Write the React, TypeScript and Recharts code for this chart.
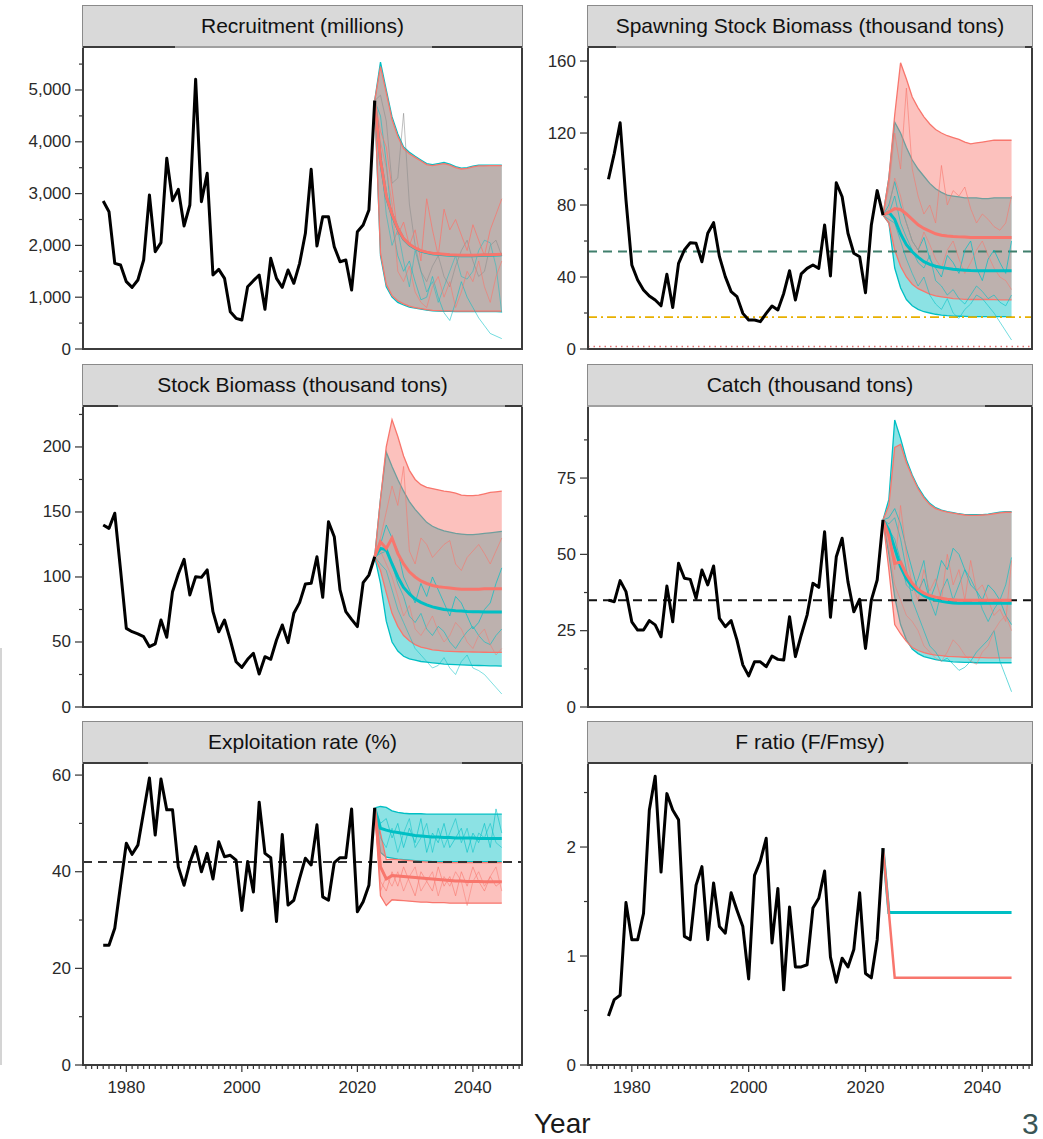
import React from 'react'
import { ComposedChart, Line, Area, XAxis, YAxis, ReferenceLine } from 'recharts'

// ---- years ----
const histYears = [
  1976, 1977, 1978, 1979, 1980, 1981, 1982, 1983, 1984, 1985, 1986, 1987, 1988, 1989, 1990, 1991,
  1992, 1993, 1994, 1995, 1996, 1997, 1998, 1999, 2000, 2001, 2002, 2003, 2004, 2005, 2006, 2007,
  2008, 2009, 2010, 2011, 2012, 2013, 2014, 2015, 2016, 2017, 2018, 2019, 2020, 2021, 2022, 2023,
]
const projYears = [
  2023, 2024, 2025, 2026, 2027, 2028, 2029, 2030, 2031, 2032, 2033, 2034, 2035, 2036, 2037, 2038,
  2039, 2040, 2041, 2042, 2043, 2044, 2045,
]
const yearTicks = [
  1973, 1974, 1975, 1976, 1977, 1978, 1979, 1980, 1981, 1982, 1983, 1984, 1985, 1986, 1987, 1988,
  1989, 1990, 1991, 1992, 1993, 1994, 1995, 1996, 1997, 1998, 1999, 2000, 2001, 2002, 2003, 2004,
  2005, 2006, 2007, 2008, 2009, 2010, 2011, 2012, 2013, 2014, 2015, 2016, 2017, 2018, 2019, 2020,
  2021, 2022, 2023, 2024, 2025, 2026, 2027, 2028, 2029, 2030, 2031, 2032, 2033, 2034, 2035, 2036,
  2037, 2038, 2039, 2040, 2041, 2042, 2043, 2044, 2045, 2046, 2047, 2048,
]
const yearLabels = [1980, 2000, 2020, 2040]

// ---- Recruitment (millions) ----
const recHist = [
  2857, 2651, 1654, 1622, 1300, 1190, 1332, 1718, 2973, 1879, 2053, 3681, 2864, 3082, 2375, 2780,
  5206, 2844, 3391, 1429, 1538, 1364, 721, 592, 560, 1203, 1319, 1429, 766, 1750, 1364, 1190,
  1525, 1268, 1654, 2233, 3469, 1988, 2554, 2554, 1975, 1685, 1718, 1139, 2265, 2394, 2683, 4794,
]
const recTealHi = [4794, 5540, 5000, 4480, 4150, 3900, 3800, 3720, 3650, 3580, 3560, 3580, 3600, 3570, 3520, 3490, 3500, 3530, 3550, 3550, 3550, 3550, 3550]
const recTealLo = [4794, 1800, 1200, 1000, 900, 850, 810, 790, 770, 750, 735, 730, 725, 725, 720, 720, 720, 720, 720, 720, 720, 720, 715]
const recTealMed = [4794, 3640, 2940, 2590, 2320, 2120, 2010, 1940, 1890, 1860, 1840, 1830, 1820, 1810, 1805, 1800, 1800, 1800, 1805, 1810, 1810, 1815, 1820]
const recRedHi = [4794, 5450, 4950, 4430, 4100, 3870, 3770, 3700, 3630, 3560, 3540, 3560, 3580, 3550, 3500, 3475, 3485, 3515, 3535, 3535, 3540, 3540, 3540]
const recRedLo = [4794, 1850, 1250, 1030, 930, 870, 830, 800, 780, 760, 745, 740, 735, 735, 730, 730, 730, 730, 730, 730, 730, 730, 730]
const recRedMed = [4794, 3650, 2950, 2600, 2330, 2130, 2020, 1950, 1900, 1870, 1850, 1840, 1830, 1820, 1815, 1810, 1810, 1810, 1815, 1820, 1820, 1825, 1830]
const recWormR1 = [4794, 4200, 3900, 3100, 2200, 2450, 2000, 2300, 1700, 2900, 2300, 1800, 2700, 2300, 2500, 2200, 1900, 2400, 2100, 1800, 2300, 2600, 2900]
const recWormR2 = [4794, 4000, 3500, 2800, 1500, 1300, 1600, 1100, 900, 800, 1200, 1400, 1000, 1300, 800, 1100, 1500, 1300, 1700, 1200, 900, 1400, 1700]
const recWormT1 = [4794, 4500, 3600, 2400, 1800, 1500, 1700, 1300, 950, 1000, 1400, 1000, 700, 550, 900, 1300, 1000, 800, 600, 450, 300, 250, 200]
const recWormT2 = [4794, 3800, 2600, 2000, 2300, 1700, 1200, 1900, 1500, 1100, 1300, 900, 1200, 1500, 1800, 1400, 1350, 1500, 1900, 2100, 2050, 1600, 700]
const recWormG1 = [4794, 4900, 4400, 3200, 3300, 4550, 2800, 2000, 1500, 1300, 1600, 1800, 1400, 1200, 1600, 1900, 2100, 1700, 1400, 1500, 2000, 2100, 1800]

// ---- Spawning stock biomass ----
const ssbHist = [
  94.3, 108.7, 125.7, 82.8, 46.7, 38.3, 32.8, 29.4, 27.2, 24, 41.5, 23, 47.6, 55, 59, 58.7,
  48.5, 64.3, 70.2, 51.3, 40.2, 31.9, 29.1, 19.8, 16.1, 16.1, 15.2, 19.8, 23.9, 21.7, 30.9, 43.5,
  27.2, 41.7, 44.8, 46.7, 44.8, 68.9, 40.6, 92.4, 84.6, 64.3, 53.2, 51.3, 31.3, 68.9, 88, 74.4,
]
const ssbRedHi = [74.4, 95, 130, 159, 150, 140, 134, 129, 125, 122, 120, 118.5, 117.5, 116.5, 115, 114, 114.5, 115, 115.5, 116, 116, 116, 116]
const ssbRedLo = [74.4, 70, 55, 46, 40, 36, 33.5, 32, 30.5, 29.5, 29, 28.5, 28, 27.8, 27.6, 27.5, 27.5, 27.5, 27.5, 27.4, 27.3, 27.3, 27.3]
const ssbRedMed = [74.4, 76, 78, 77.5, 75, 72, 69, 67, 65.5, 64, 63.2, 62.8, 62.5, 62.3, 62.2, 62, 62, 62, 62, 62, 62, 62, 62]
const ssbTealHi = [74.4, 95, 126, 120, 112, 105, 100, 96, 92, 89, 87, 85.5, 85, 84.5, 84, 84, 84, 83.5, 83.5, 84, 84, 84, 84]
const ssbTealLo = [74.4, 70, 45, 34, 27.5, 24, 22, 20.7, 20, 19.3, 18.8, 18.5, 18.3, 18.2, 18.1, 18, 18, 18, 18, 18, 18, 18, 18]
const ssbTealMed = [74.4, 76, 72, 64, 58, 54, 51, 48.5, 47, 46, 45.3, 44.8, 44.3, 44, 43.8, 43.6, 43.5, 43.5, 43.5, 43.5, 43.5, 43.5, 43.5]
const ssbWormR1 = [74.4, 90, 120, 100, 145, 100, 85, 75, 80, 70, 102, 80, 88, 85, 90, 78, 70, 75, 72, 68, 66, 70, 85]
const ssbWormR2 = [74.4, 78, 95, 85, 70, 60, 55, 65, 58, 50, 45, 55, 60, 50, 42, 48, 55, 60, 52, 45, 40, 38, 33]
const ssbWormT1 = [74.4, 80, 93, 80, 70, 60, 55, 62, 50, 45, 40, 52, 48, 42, 55, 60, 45, 38, 50, 55, 48, 42, 60]
const ssbWormT2 = [74.4, 72, 70, 60, 50, 42, 35, 40, 30, 25, 22, 28, 20, 17, 22, 25, 30, 28, 24, 20, 15, 10, 5]
const ssbWormT3 = [74.4, 75, 85, 70, 62, 55, 48, 45, 52, 38, 35, 30, 33, 28, 25, 30, 35, 32, 28, 30, 26, 24, 30]

// ---- Stock biomass ----
const sbHist = [
  140, 137.4, 149, 105.4, 60.5, 57.9, 56.2, 54.1, 46.4, 48.5, 66.9, 53.6, 88.7, 102.3, 113.6, 86.2,
  100.2, 99.7, 105.4, 73.3, 57.9, 66.9, 51.5, 34.8, 30.5, 36.7, 41.3, 25.4, 38.7, 36.7, 51.5, 63.1,
  49.5, 72.1, 80.3, 94.6, 95.1, 115.6, 84.4, 142.5, 131, 90, 73.3, 67.4, 61.8, 95.6, 101.5, 115.6,
]
const sbRedHi = [115.6, 160, 200, 221, 208, 193, 182, 175, 171, 169, 168, 167, 166, 165.5, 164.5, 163, 162.5, 162.5, 163, 164, 165, 165.5, 166]
const sbRedLo = [115.6, 105, 88, 72, 62, 55, 51, 48, 46, 45, 44, 43.5, 43, 42.8, 42.6, 42.5, 42.4, 42.3, 42.2, 42.1, 42, 42, 42]
const sbRedMed = [115.6, 127, 122, 130, 118, 110, 104, 100, 97, 95, 93.5, 92.5, 92, 91.5, 91, 90.5, 90.5, 90.5, 90.5, 91, 91, 91, 91]
const sbTealHi = [115.6, 160, 196, 185, 175, 166, 158, 152, 147, 142, 139, 137, 135.5, 134.5, 133.5, 133, 132.5, 132.5, 133, 133.5, 134, 134.5, 135]
const sbTealLo = [115.6, 95, 66, 50, 43, 39, 37, 36, 35, 34.5, 34, 33.5, 33, 32.8, 32.6, 32.4, 32.2, 32, 31.9, 31.8, 31.7, 31.6, 31.5]
const sbTealMed = [115.6, 122, 121, 110, 100, 92, 87, 83, 80.5, 78.5, 77, 76, 75, 74.5, 74, 73.8, 73.5, 73.3, 73.2, 73, 73, 73, 73]
const sbWormR1 = [115.6, 130, 150, 170, 155, 185, 120, 110, 130, 125, 115, 120, 125, 128, 110, 105, 115, 120, 125, 118, 110, 120, 130]
const sbWormR2 = [115.6, 120, 110, 100, 85, 70, 78, 60, 55, 62, 70, 58, 50, 55, 65, 60, 50, 45, 55, 60, 48, 40, 45]
const sbWormT1 = [115.6, 125, 140, 130, 120, 100, 90, 80, 95, 85, 100, 90, 80, 70, 85, 80, 70, 60, 65, 75, 80, 95, 107]
const sbWormT2 = [115.6, 110, 105, 90, 75, 65, 55, 45, 40, 35, 30, 32, 38, 30, 25, 35, 40, 30, 28, 25, 20, 15, 10]
const sbWormT3 = [115.6, 118, 120, 110, 95, 85, 70, 65, 72, 60, 55, 62, 58, 50, 45, 52, 58, 62, 55, 50, 48, 55, 60]

// ---- Catch ----
const catchHist = [
  35, 34.5, 41.4, 37.8, 27.9, 25.2, 25.2, 28.3, 26.9, 23, 39.6, 27.9, 47.1, 42.2, 41.8, 35.6,
  44.9, 40, 46.2, 29, 26.3, 28.3, 21.9, 13.8, 10.2, 14.8, 14.8, 13.2, 16.7, 15.6, 15.4, 29.6,
  16.5, 23.6, 30.1, 40.5, 39.2, 57.4, 29.4, 49.2, 55.3, 41, 31.2, 35.3, 19.2, 35, 41.6, 61.3,
]
const catchTealHi = [61.3, 68, 94, 88, 81, 76, 72, 69, 66.7, 65.3, 64.5, 64, 63.7, 63.3, 63, 63, 63, 63, 63.2, 63.5, 63.8, 64, 64]
const catchTealLo = [61.3, 50, 36, 27, 22, 19, 17.5, 16.5, 16, 15.5, 15.2, 15, 14.8, 14.7, 14.6, 14.6, 14.5, 14.5, 14.5, 14.5, 14.5, 14.5, 14.5]
const catchTealMed = [61.3, 58, 52, 46, 42, 39.5, 37.8, 36.5, 35.6, 35, 34.6, 34.3, 34.1, 34, 34, 34, 34, 34, 34, 34, 34, 34, 34]
const catchRedHi = [61.3, 66, 85, 86, 80, 75.5, 71.5, 68.5, 66.3, 65, 64.3, 63.8, 63.5, 63.2, 62.9, 62.8, 62.8, 62.9, 63, 63.3, 63.6, 63.8, 63.8]
const catchRedLo = [61.3, 45, 27, 24, 21.5, 19.5, 18.5, 17.8, 17.3, 17, 16.8, 16.6, 16.5, 16.4, 16.3, 16.3, 16.2, 16.2, 16.1, 16.1, 16.1, 16.1, 16.1]
const catchRedMed = [61.3, 56, 47, 47.5, 43.5, 40.5, 38.5, 37.3, 36.5, 36, 35.6, 35.3, 35.1, 35, 35, 35, 35, 35, 35, 35, 35, 35, 35]
const catchWormR1 = [61.3, 55, 45, 66, 50, 40, 35, 45, 38, 42, 35, 50, 40, 45, 35, 48, 38, 40, 35, 30, 32, 28, 48]
const catchWormR2 = [61.3, 52, 40, 35, 30, 28, 25, 20, 18, 16, 15, 18, 22, 20, 17, 15, 14, 18, 20, 25, 28, 30, 25]
const catchWormT1 = [61.3, 60, 62, 55, 45, 35, 30, 25, 20, 18, 15, 16, 14, 12, 13, 15, 18, 20, 22, 25, 15, 10, 5]
const catchWormT2 = [61.3, 62, 65, 60, 52, 45, 38, 42, 35, 40, 48, 45, 52, 50, 45, 40, 38, 35, 40, 38, 35, 30, 27]
const catchWormT3 = [61.3, 58, 55, 48, 40, 38, 42, 48, 35, 30, 38, 42, 35, 40, 45, 42, 38, 32, 28, 32, 35, 40, 49]

// ---- Exploitation rate (%) ----
const expHist = [
  24.8, 24.8, 28.3, 37.2, 45.9, 43.6, 45.5, 52.4, 59.4, 47.6, 59.2, 52.8, 52.8, 41, 37.2, 41.9,
  45.2, 40, 43.8, 38.5, 46.2, 43.1, 43.4, 42.4, 32, 42.1, 35.8, 54.4, 43.8, 42.9, 29.7, 47.7,
  33.1, 34.1, 38.6, 42.8, 41.4, 49.7, 34.8, 34.1, 41.9, 42.9, 42.9, 53, 31.7, 33.8, 37.2, 53.2,
]
const expTealHi = [53.2, 53.5, 53.3, 52.6, 52.3, 52.1, 52, 52, 52, 51.9, 51.9, 51.9, 51.9, 51.9, 51.9, 51.9, 51.9, 51.9, 51.9, 51.9, 51.9, 51.9, 51.9]
const expTealLo = [53.2, 44, 43, 42.8, 42.6, 42.5, 42.4, 42.3, 42.2, 42.2, 42.1, 42.1, 42.1, 42.1, 42.1, 42.1, 42.1, 42.1, 42.1, 42.1, 42.1, 42.1, 42.1]
const expTealMed = [53.2, 49, 48.6, 48.3, 48.1, 47.9, 47.7, 47.5, 47.4, 47.3, 47.2, 47.2, 47.1, 47.1, 47, 47, 47, 47, 46.9, 46.9, 46.9, 46.9, 46.9]
const expRedHi = [53.2, 48, 42.5, 42.6, 42.5, 42.4, 42.3, 42.2, 42.1, 42, 42, 41.9, 41.9, 41.9, 41.9, 41.9, 41.9, 41.9, 41.9, 41.9, 41.9, 41.9, 41.9]
const expRedLo = [53.2, 35, 33, 34.2, 34.1, 34, 33.9, 33.8, 33.7, 33.7, 33.6, 33.6, 33.6, 33.5, 33.5, 33.5, 33.5, 33.5, 33.5, 33.5, 33.5, 33.5, 33.5]
const expRedMed = [53.2, 41, 38.5, 39.2, 39.1, 39, 38.9, 38.8, 38.7, 38.6, 38.5, 38.4, 38.3, 38.2, 38.1, 38.1, 38, 38, 38, 37.9, 37.9, 37.9, 37.9]
const expWormT1 = [53.2, 50, 51, 47, 50, 45, 49, 46, 51, 44, 48, 46, 50, 45, 47, 49, 44, 48, 46, 50, 45, 53, 48]
const expWormT2 = [53.2, 47, 45, 49, 44, 48, 51, 45, 47, 50, 44, 49, 45, 48, 51, 46, 49, 44, 48, 47, 50, 46, 45]
const expWormR1 = [53.2, 38, 36, 40, 37, 41, 38, 35, 40, 38, 36, 41, 37, 39, 35, 40, 37, 41, 38, 36, 39, 37, 38]
const expWormR2 = [53.2, 36, 39, 37, 40, 36, 39, 41, 36, 38, 40, 35, 39, 37, 40, 38, 33, 38, 40, 37, 39, 41, 36]

// ---- F ratio ----
const fHist = [
  0.45, 0.6, 0.64, 1.49, 1.15, 1.15, 1.39, 2.34, 2.65, 1.77, 2.49, 2.34, 2.25, 1.18, 1.15, 1.65,
  1.82, 1.15, 1.67, 1.27, 1.21, 1.58, 1.42, 1.27, 0.79, 1.74, 1.87, 2.08, 1.12, 1.62, 0.69, 1.45,
  0.9, 0.9, 0.92, 1.44, 1.53, 1.78, 0.99, 0.76, 0.98, 0.9, 1.06, 1.58, 0.84, 0.8, 1.15, 1.99,
]
const fTeal = [1.99, 1.4, 1.4, 1.4, 1.4, 1.4, 1.4, 1.4, 1.4, 1.4, 1.4, 1.4, 1.4, 1.4, 1.4, 1.4, 1.4, 1.4, 1.4, 1.4, 1.4, 1.4, 1.4]
const fRed = [1.99, 1.4, 0.8, 0.8, 0.8, 0.8, 0.8, 0.8, 0.8, 0.8, 0.8, 0.8, 0.8, 0.8, 0.8, 0.8, 0.8, 0.8, 0.8, 0.8, 0.8, 0.8, 0.8]

// ---- axis ticks ----
const recTicks = [0, 500, 1000, 1500, 2000, 2500, 3000, 3500, 4000, 4500, 5000, 5500]
const recMajor = [0, 1000, 2000, 3000, 4000, 5000]
const ssbTicks = [0, 20, 40, 60, 80, 100, 120, 140, 160]
const ssbMajor = [0, 40, 80, 120, 160]
const sbTicks = [0, 25, 50, 75, 100, 125, 150, 175, 200, 225]
const sbMajor = [0, 50, 100, 150, 200]
const catchTicks = [0, 12.5, 25, 37.5, 50, 62.5, 75, 87.5]
const catchMajor = [0, 25, 50, 75]
const expTicks = [0, 10, 20, 30, 40, 50, 60]
const expMajor = [0, 20, 40, 60]
const fTicks = [0, 0.5, 1, 1.5, 2, 2.5]
const fMajor = [0, 1, 2]

const RED = '#F8766D'
const TEAL = '#00BFC4'
const FONT = '"Liberation Sans", Arial, sans-serif'

const toRows = (years: number[], cols: Record<string, number[]>) =>
  years.map((year, i) => {
    const r: Record<string, number> = { year }
    Object.keys(cols).forEach((k) => { r[k] = cols[k][i] })
    return r
  })

interface Band { hi: number[]; lo: number[]; med: number[] }
interface Worm { vals: number[]; color: string; op: number }
interface RefL { y: number; color: string; dash: string; w: number }

interface PanelProps {
  title: string
  px: number
  py: number
  pw: number
  ph: number
  yMax: number
  yTicks: number[]
  yMajor: number[]
  fmt?: (v: number) => string
  hist: number[]
  teal?: Band
  red?: Band
  tealLine?: number[]
  redLine?: number[]
  worms?: Worm[]
  refs?: RefL[]
  showX?: boolean
  segs: [number, number][]
}

const makeYTick = (major: number[], fmt: (v: number) => string) => (p: any) => {
  const { x, y, payload } = p
  const isMajor = major.includes(payload.value)
  return (
    <g>
      <line x1={x} x2={x - (isMajor ? 8 : 4)} y1={y} y2={y} stroke="#333" strokeWidth={1.2} />
      {isMajor && (
        <text x={x - 12} y={y} textAnchor="end" dominantBaseline="central" fontSize={17} fill="#2a2a2a" fontFamily={FONT}>
          {fmt(payload.value)}
        </text>
      )}
    </g>
  )
}

const XTick = (p: any) => {
  const { x, y, payload } = p
  const isMajor = yearLabels.includes(payload.value)
  return (
    <g>
      <line x1={x} x2={x} y1={y} y2={y + (isMajor ? 7 : 4)} stroke="#333" strokeWidth={1.2} />
      {isMajor && (
        <text x={x} y={y + 22} textAnchor="middle" dominantBaseline="central" fontSize={17} fill="#2a2a2a" fontFamily={FONT}>
          {payload.value}
        </text>
      )}
    </g>
  )
}

function Panel(props: PanelProps) {
  const { title, px, py, pw, ph, yMax, yTicks, yMajor, hist, teal, red, tealLine, redLine, worms = [], refs = [], showX, segs } = props
  const fmt = props.fmt || ((v: number) => String(v))
  const histRows = toRows(histYears, { v: hist })
  const tealRows = teal ? toRows(projYears, teal as any) : []
  const redRows = red ? toRows(projYears, red as any) : []
  const xh = showX ? 40 : 0
  const mb = showX ? 5 : 14
  const stripTop = py - 42

  return (
    <>
      <div style={{ position: 'absolute', left: px - 60, top: py - 5 }}>
        <ComposedChart width={pw + 65} height={ph + 5 + mb + xh} margin={{ top: 5, right: 5, bottom: mb, left: 5 }}>
          <XAxis
            type="number"
            dataKey="year"
            domain={[1972.5, 2048.5]}
            allowDataOverflow
            ticks={yearTicks}
            interval={0}
            tick={XTick}
            tickSize={0}
            tickMargin={0}
            axisLine={false}
            tickLine={false}
            height={40}
            hide={!showX}
          />
          <YAxis
            type="number"
            domain={[0, yMax]}
            allowDataOverflow
            ticks={yTicks}
            interval={0}
            tick={makeYTick(yMajor, fmt)}
            tickSize={0}
            tickMargin={0}
            axisLine={false}
            tickLine={false}
            width={55}
          />
          {teal && (
            <Area data={tealRows} type="linear" dataKey={(d: any) => [d.lo, d.hi]} stroke={TEAL} strokeWidth={1.3}
              fill={TEAL} fillOpacity={0.45} isAnimationActive={false} dot={false} activeDot={false} />
          )}
          {red && (
            <Area data={redRows} type="linear" dataKey={(d: any) => [d.lo, d.hi]} stroke={RED} strokeWidth={1.3}
              fill={RED} fillOpacity={0.45} isAnimationActive={false} dot={false} activeDot={false} />
          )}
          {refs.map((r, i) => (
            <ReferenceLine key={'r' + i} y={r.y} stroke={r.color} strokeDasharray={r.dash} strokeWidth={r.w} />
          ))}
          {worms.map((w, i) => (
            <Line key={'w' + i} data={toRows(projYears, { v: w.vals })} type="linear" dataKey="v" stroke={w.color}
              strokeOpacity={w.op} strokeWidth={1} dot={false} activeDot={false} isAnimationActive={false} />
          ))}
          {teal && (
            <Line data={tealRows} type="linear" dataKey="med" stroke={TEAL} strokeWidth={3} dot={false}
              activeDot={false} isAnimationActive={false} />
          )}
          {red && (
            <Line data={redRows} type="linear" dataKey="med" stroke={RED} strokeWidth={3} dot={false}
              activeDot={false} isAnimationActive={false} />
          )}
          {tealLine && (
            <Line data={toRows(projYears, { v: tealLine })} type="linear" dataKey="v" stroke={TEAL} strokeWidth={3}
              dot={false} activeDot={false} isAnimationActive={false} />
          )}
          {redLine && (
            <Line data={toRows(projYears, { v: redLine })} type="linear" dataKey="v" stroke={RED} strokeWidth={2.5}
              dot={false} activeDot={false} isAnimationActive={false} />
          )}
          <Line data={histRows} type="linear" dataKey="v" stroke="#000" strokeWidth={3} strokeLinejoin="round"
            dot={false} activeDot={false} isAnimationActive={false} />
        </ComposedChart>
      </div>
      <div style={{
        position: 'absolute', left: px - 1, top: py - 1, width: pw + 2, height: ph + 2,
        border: '2px solid #3c3c3c', boxSizing: 'border-box', pointerEvents: 'none',
      }} />
      <div style={{
        position: 'absolute', left: px - 1, top: stripTop, width: pw + 2, height: py - stripTop + 1,
        background: '#d9d9d9', border: '1px solid #8a8a8a', borderBottom: '2px solid #a0a0a0', boxSizing: 'border-box',
        display: 'flex', alignItems: 'center', justifyContent: 'center',
        fontFamily: FONT, fontSize: 21, color: '#111', whiteSpace: 'nowrap', overflow: 'hidden',
      }}>
        {title}
      </div>
      {segs.map((s, i) => (
        <div key={i} style={{ position: 'absolute', left: s[0], top: py - 1, width: s[1] - s[0], height: 2, background: '#3c3c3c' }} />
      ))}
    </>
  )
}

export default function App() {
  const LX = 83
  const LW = 439
  const RX = 588
  const RW = 444
  return (
    <div style={{ position: 'absolute', left: 0, top: 0, width: 1043, height: 1139, background: '#fff', overflow: 'hidden' }}>
      <Panel
        title="Recruitment (millions)" px={LX} py={47} pw={LW} ph={302}
        yMax={5830} yTicks={recTicks} yMajor={recMajor} fmt={(v) => v.toLocaleString('en-US')}
        hist={recHist}
        teal={{ hi: recTealHi, lo: recTealLo, med: recTealMed }}
        red={{ hi: recRedHi, lo: recRedLo, med: recRedMed }}
        worms={[
          { vals: recWormT1, color: TEAL, op: 0.55 },
          { vals: recWormT2, color: TEAL, op: 0.45 },
          { vals: recWormG1, color: '#8a8a8a', op: 0.55 },
          { vals: recWormR1, color: RED, op: 0.75 },
          { vals: recWormR2, color: RED, op: 0.6 },
        ]}
        segs={[[83, 175], [432, 522]]}
      />
      <Panel
        title="Spawning Stock Biomass (thousand tons)" px={RX} py={47} pw={RW} ph={302}
        yMax={167.8} yTicks={ssbTicks} yMajor={ssbMajor}
        hist={ssbHist}
        teal={{ hi: ssbTealHi, lo: ssbTealLo, med: ssbTealMed }}
        red={{ hi: ssbRedHi, lo: ssbRedLo, med: ssbRedMed }}
        refs={[
          { y: 54.2, color: '#3f7f6c', dash: '9 6', w: 2 },
          { y: 17.7, color: '#e8b000', dash: '9 4 2 4', w: 1.8 },
          { y: 1.4, color: '#e07070', dash: '1.5 4', w: 1.5 },
        ]}
        worms={[
          { vals: ssbWormT1, color: TEAL, op: 0.7 },
          { vals: ssbWormT2, color: TEAL, op: 0.55 },
          { vals: ssbWormT3, color: TEAL, op: 0.6 },
          { vals: ssbWormR1, color: RED, op: 0.6 },
          { vals: ssbWormR2, color: RED, op: 0.55 },
        ]}
        segs={[[588, 616], [1025, 1032]]}
      />
      <Panel
        title="Stock Biomass (thousand tons)" px={LX} py={406} pw={LW} ph={301}
        yMax={231.5} yTicks={sbTicks} yMajor={sbMajor}
        hist={sbHist}
        teal={{ hi: sbTealHi, lo: sbTealLo, med: sbTealMed }}
        red={{ hi: sbRedHi, lo: sbRedLo, med: sbRedMed }}
        worms={[
          { vals: sbWormT1, color: TEAL, op: 0.7 },
          { vals: sbWormT2, color: TEAL, op: 0.5 },
          { vals: sbWormT3, color: TEAL, op: 0.6 },
          { vals: sbWormR1, color: RED, op: 0.6 },
          { vals: sbWormR2, color: RED, op: 0.5 },
        ]}
        segs={[[83, 118], [505, 522]]}
      />
      <Panel
        title="Catch (thousand tons)" px={RX} py={406} pw={RW} ph={301}
        yMax={98.6} yTicks={catchTicks} yMajor={catchMajor}
        hist={catchHist}
        teal={{ hi: catchTealHi, lo: catchTealLo, med: catchTealMed }}
        red={{ hi: catchRedHi, lo: catchRedLo, med: catchRedMed }}
        refs={[{ y: 35, color: '#111', dash: '9 6', w: 2 }]}
        worms={[
          { vals: catchWormT1, color: TEAL, op: 0.6 },
          { vals: catchWormT2, color: TEAL, op: 0.7 },
          { vals: catchWormT3, color: TEAL, op: 0.6 },
          { vals: catchWormR1, color: RED, op: 0.6 },
          { vals: catchWormR2, color: RED, op: 0.5 },
        ]}
        segs={[[985, 1032]]}
      />
      <Panel
        title="Exploitation rate (%)" px={LX} py={763} pw={LW} ph={302}
        yMax={62.5} yTicks={expTicks} yMajor={expMajor}
        hist={expHist}
        teal={{ hi: expTealHi, lo: expTealLo, med: expTealMed }}
        red={{ hi: expRedHi, lo: expRedLo, med: expRedMed }}
        refs={[{ y: 42, color: '#333', dash: '9 6', w: 2 }]}
        worms={[
          { vals: expWormT1, color: TEAL, op: 0.6 },
          { vals: expWormT2, color: TEAL, op: 0.5 },
          { vals: expWormR1, color: RED, op: 0.6 },
          { vals: expWormR2, color: RED, op: 0.5 },
        ]}
        showX
        segs={[[83, 148], [462, 522]]}
      />
      <Panel
        title="F ratio (F/Fmsy)" px={RX} py={763} pw={RW} ph={302}
        yMax={2.771} yTicks={fTicks} yMajor={fMajor}
        hist={fHist}
        tealLine={fTeal}
        redLine={fRed}
        showX
        segs={[[588, 908]]}
      />
      <div style={{ position: 'absolute', left: 0, top: 648, width: 2, height: 417, background: '#d4d4d4' }} />
      <div style={{ position: 'absolute', left: 534, top: 1108, fontFamily: FONT, fontSize: 28, color: '#1a1a1a' }}>Year</div>
      <div style={{ position: 'absolute', left: 1022, top: 1107, fontFamily: FONT, fontSize: 30, color: '#3a5555' }}>3</div>
    </div>
  )
}
